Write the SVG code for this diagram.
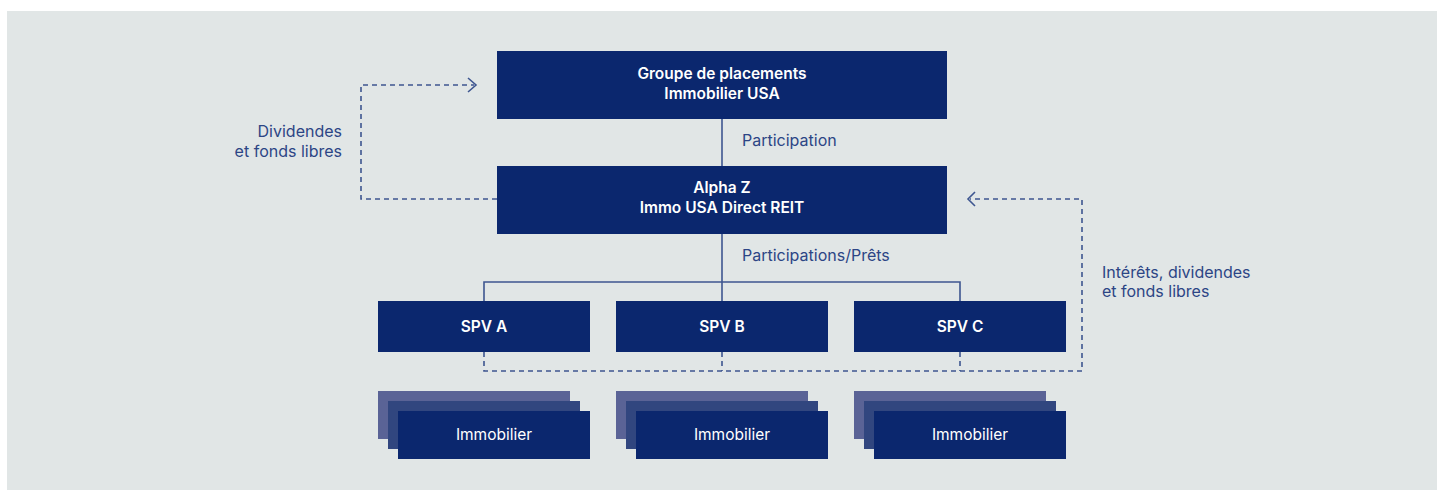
<svg xmlns="http://www.w3.org/2000/svg" width="1443" height="490" viewBox="0 0 1443 490">
<defs>
<style>
.node{fill:#0b276e}
.back1{fill:#5a6396}
.back2{fill:#31467f}
.bt{font-family:Inter,"Liberation Sans",Arial,sans-serif;font-size:15.5px;font-weight:600;fill:#ffffff;text-anchor:middle}
.rt{font-family:Inter,"Liberation Sans",Arial,sans-serif;font-size:15.5px;fill:#ffffff;text-anchor:middle}
.lbl{font-family:Inter,"Liberation Sans",Arial,sans-serif;font-size:16px;fill:#2c4585}
.solid{fill:none;stroke:#3e5690;stroke-width:1.6}
.dash{fill:none;stroke:#3e5690;stroke-width:1.6;stroke-dasharray:5,4}
.arrow{fill:none;stroke:#3e5690;stroke-width:1.6}
</style>
</defs>
<rect x="7" y="11" width="1430" height="479" fill="#e1e6e6"/>
<g id="connectors">
<line class="solid" x1="722" y1="119" x2="722" y2="166"/>
<line class="solid" x1="722" y1="234" x2="722" y2="282"/>
<polyline class="solid" points="484,301 484,282 960,282 960,301"/>
<line class="solid" x1="722" y1="282" x2="722" y2="301"/>
<polyline class="dash" points="497,199 361,199 361,85 474,85"/>
<polyline class="arrow" points="468,78 476,85 468,92"/>
<polyline class="dash" points="484,352 484,371 1082,371 1082,199 970,199"/>
<line class="dash" x1="722" y1="352" x2="722" y2="371"/>
<line class="dash" x1="960" y1="352" x2="960" y2="371"/>
<polyline class="arrow" points="975,192 968,199 975,206"/>
<text class="lbl" x="742" y="146">Participation</text>
<text class="lbl" x="742" y="261">Participations/Prêts</text>
<text class="lbl" x="342" y="137" text-anchor="end">Dividendes</text>
<text class="lbl" x="342" y="157" text-anchor="end">et fonds libres</text>
<text class="lbl" x="1102" y="278">Intérêts, dividendes</text>
<text class="lbl" x="1102" y="297">et fonds libres</text>
</g>
<g id="groupe">
<rect class="node" x="497" y="51" width="450" height="68"/>
<text class="bt" x="722" y="79">Groupe de placements</text>
<text class="bt" x="722" y="99">Immobilier USA</text>
</g>
<g id="alphaz">
<rect class="node" x="497" y="166" width="450" height="68"/>
<text class="bt" x="722" y="193">Alpha Z</text>
<text class="bt" x="722" y="213">Immo USA Direct REIT</text>
</g>
<g id="spva">
<rect class="node" x="378" y="301" width="212" height="51"/>
<text class="bt" x="484" y="332">SPV A</text>
</g>
<g id="spvb">
<rect class="node" x="616" y="301" width="212" height="51"/>
<text class="bt" x="722" y="332">SPV B</text>
</g>
<g id="spvc">
<rect class="node" x="854" y="301" width="212" height="51"/>
<text class="bt" x="960" y="332">SPV C</text>
</g>
<g id="immo-a">
<rect class="back1" x="378" y="391" width="192" height="48"/>
<rect class="back2" x="388" y="401" width="192" height="48"/>
<rect class="node" x="398" y="411" width="192" height="48"/>
<text class="rt" x="494" y="440">Immobilier</text>
</g>
<g id="immo-b">
<rect class="back1" x="616" y="391" width="192" height="48"/>
<rect class="back2" x="626" y="401" width="192" height="48"/>
<rect class="node" x="636" y="411" width="192" height="48"/>
<text class="rt" x="732" y="440">Immobilier</text>
</g>
<g id="immo-c">
<rect class="back1" x="854" y="391" width="192" height="48"/>
<rect class="back2" x="864" y="401" width="192" height="48"/>
<rect class="node" x="874" y="411" width="192" height="48"/>
<text class="rt" x="970" y="440">Immobilier</text>
</g>
</svg>
